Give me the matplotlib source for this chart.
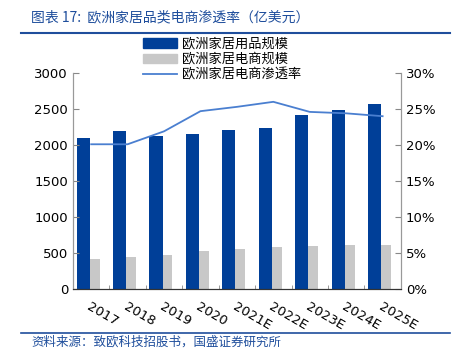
import matplotlib
matplotlib.use("Agg")
from matplotlib import pyplot as plt
from matplotlib.lines import Line2D
import numpy as np

plt.rcParams['font.family'] = ['DejaVu Sans', 'Noto Sans CJK SC']

years = ['2017', '2018', '2019', '2020', '2021E', '2022E', '2023E', '2024E', '2025E']
home_scale = [2100, 2190, 2125, 2150, 2210, 2236, 2417, 2486, 2570]
ecom_scale = [420, 444, 472, 532, 556, 583, 597, 611, 615]
penetration = [20.1, 20.1, 21.9, 24.7, 25.3, 26.0, 24.6, 24.4, 24.0]

blue = '#003f98'
gray = '#c8c8c8'
line_c = '#4a7fd0'
cjk = ['Noto Sans CJK SC', 'DejaVu Sans']

fig = plt.figure(figsize=(4.56, 3.58), dpi=100)
ax = fig.add_axes([0.16, 0.193, 0.719, 0.603])
ax2 = ax.twinx()

x = np.arange(len(years))
bw1 = 0.36
bw2 = 0.27
ax.bar(x - bw1 / 2 - 0.04, home_scale, width=bw1, color=blue, label='欧洲家居用品规模')
ax.bar(x + bw2 / 2 - 0.04, ecom_scale, width=bw2, color=gray, label='欧洲家居电商规模')
ax2.plot(x, penetration, color=line_c, lw=1.3, label='欧洲家居电商渗透率')

ax.set_xlim(-0.5, len(years) - 0.5)
ax.set_ylim(0, 3000)
ax.set_yticks(range(0, 3001, 500))
ax2.set_ylim(0, 30)
ax2.set_yticks(range(0, 31, 5))
ax2.set_yticklabels([f'{v}%' for v in range(0, 31, 5)])

ax.set_xticks(x)
ax.set_xticklabels(years, rotation=-30, ha='left', rotation_mode='anchor', fontsize=9.5)
ax.set_xticks(np.arange(-0.5, len(years)), minor=True)
ax.tick_params(axis='x', which='major', length=0, pad=8)
ax.tick_params(axis='x', which='minor', length=3, direction='in', color='#888888')
ax.tick_params(axis='y', direction='in', length=4, color='#888888', labelsize=9.5)
ax2.tick_params(axis='y', direction='in', length=4, color='#888888', labelsize=9.5)

for a in (ax, ax2):
    a.spines['top'].set_visible(False)
    a.spines['left'].set_color('#999999')
    a.spines['right'].set_color('#999999')
    a.spines['bottom'].set_color('#333333')

handles = [
    plt.Rectangle((0, 0), 1, 1, color=blue),
    plt.Rectangle((0, 0), 1, 1, color=gray),
    Line2D([0], [0], color=line_c, lw=1.3),
]
labels = ['欧洲家居用品规模', '欧洲家居电商规模', '欧洲家居电商渗透率']
fig.legend(handles, labels, loc='upper left', bbox_to_anchor=(0.313, 0.895),
           frameon=False, prop={'family': cjk, 'size': 9.5},
           handlelength=2.6, handleheight=0.7, labelspacing=0.18,
           handletextpad=0.4, borderpad=0, borderaxespad=0)

fig.text(0.068, 0.95, '图表 17:  欧洲家居品类电商渗透率（亿美元）', family=cjk,
         fontsize=10, color='#1f4e9c', style='italic', va='center')
fig.add_artist(Line2D([0.045, 0.987], [0.908, 0.908], color='#1f4e9c', lw=1.5))
fig.add_artist(Line2D([0.045, 0.987], [0.07, 0.07], color='#1f4e9c', lw=1.2))
fig.text(0.068, 0.045, '资料来源：致欧科技招股书，国盛证券研究所', family=cjk,
         fontsize=9, color='#1f4e9c', style='italic', va='center')

plt.savefig('out.png', dpi=100)
